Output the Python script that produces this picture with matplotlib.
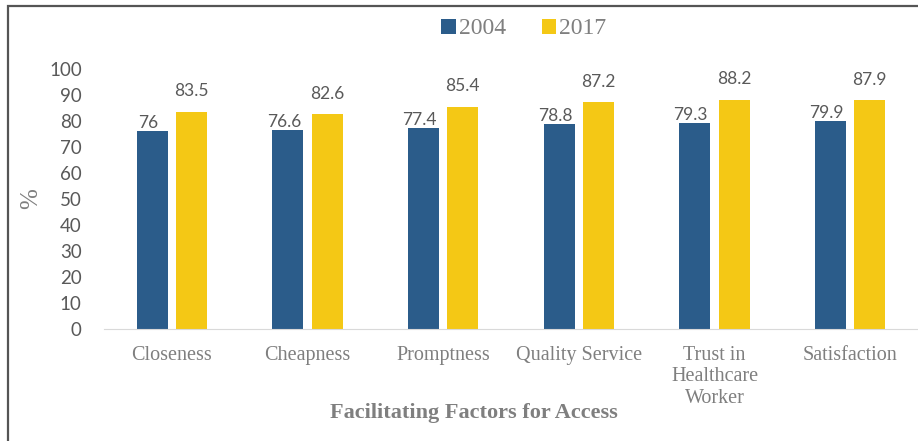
import numpy as np
import matplotlib.pyplot as plt
from matplotlib.patches import Rectangle

factors = ['Closeness', 'Cheapness', 'Promptness', 'Quality Service',
           'Trust in\nHealthcare\nWorker', 'Satisfaction']
years = ['2004', '2017']
vals_2004 = [76, 76.6, 77.4, 78.8, 79.3, 79.9]
vals_2017 = [83.5, 82.6, 85.4, 87.2, 88.2, 87.9]
yticks = list(range(0, 101, 10))

BLUE = '#2b5c8a'
YELLOW = '#f4c815'
GREY = '#7f7f7f'
SANS = ['Lato', 'DejaVu Sans']
SERIF = ['Liberation Serif', 'DejaVu Serif']

W, H = 918, 441
fig = plt.figure(figsize=(W / 100, H / 100), dpi=100)

# frame around the picture (only left/top show in the original)
fig.patches.append(Rectangle((8 / W, -0.1), 1.2, 1 - 6 / H + 0.1, transform=fig.transFigure,
                             fill=False, edgecolor='#555555', linewidth=1.6))

# axes: baseline y=329, 100 at y=69; x from 104 to 918
ax = fig.add_axes([104 / W, (H - 329) / H, (918 - 104) / W, (329 - 69) / H])

x = np.arange(len(factors))
bw = 0.229
off = 0.144
b1 = ax.bar(x - off, vals_2004, bw, color=BLUE, label=years[0])
b2 = ax.bar(x + off, vals_2017, bw, color=YELLOW, label=years[1])

for rect, v in zip(b1, vals_2004):
    ax.annotate(f'{v:g}', (rect.get_x() + rect.get_width() / 2, v), xytext=(-3, 0),
                textcoords='offset points', ha='center', va='bottom',
                fontsize=12.5, color='#595959', family=SANS)
for rect, v in zip(b2, vals_2017):
    ax.annotate(f'{v:g}', (rect.get_x() + rect.get_width() / 2, v), xytext=(0, 9),
                textcoords='offset points', ha='center', va='bottom',
                fontsize=12.5, color='#595959', family=SANS)

ax.set_xlim(-0.5, len(factors) - 0.5)
ax.set_ylim(0, 100)
ax.set_yticks(yticks)
ax.set_yticklabels([str(t) for t in yticks], fontsize=13.5, color='#595959', family=SANS)
ax.set_xticks(x)
ax.set_xticklabels(factors, fontsize=14.5, color=GREY, family=SERIF, linespacing=1.2, va='top')
ax.tick_params(axis='both', length=0)
ax.tick_params(axis='y', pad=16)
ax.tick_params(axis='x', pad=12)

for s in ['top', 'right', 'left']:
    ax.spines[s].set_visible(False)
ax.spines['bottom'].set_color('#d9d9d9')

ax.set_ylabel('%', fontsize=18, color=GREY, family=SERIF, labelpad=5)
fig.text(474 / W, 1 - 413 / H, 'Facilitating Factors for Access', ha='center', va='center',
         fontsize=16, fontweight='bold', color=GREY, family=SERIF)

leg = fig.legend(handles=[b1, b2], labels=years, loc='center', bbox_to_anchor=(524 / W, 1 - 29 / H),
                 ncol=2, frameon=False, prop={'family': SERIF, 'size': 17},
                 handlelength=0.6, handleheight=0.6, handletextpad=0.15, columnspacing=1.5)
for t in leg.get_texts():
    t.set_color(GREY)

fig.savefig('out.png', dpi=100)
